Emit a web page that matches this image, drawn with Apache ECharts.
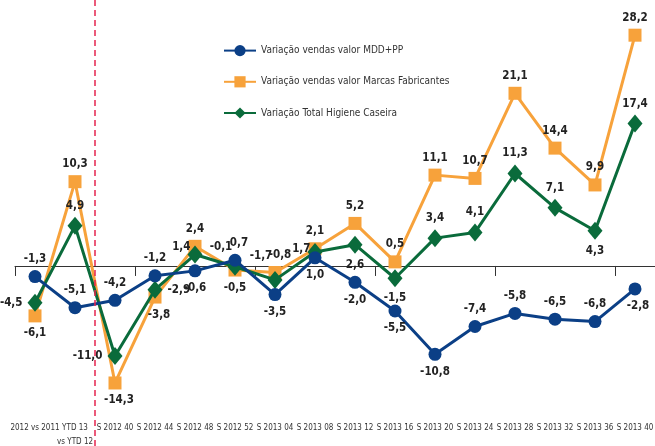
<!DOCTYPE html>
<html>
<head>
<meta charset="utf-8">
<script src="https://cdn.jsdelivr.net/npm/echarts@6/dist/echarts.min.js"></script>
<style>
  html, body { margin: 0; padding: 0; background: #fff; }
  #chart { width: 655px; height: 446px; }
</style>
</head>
<body>
<div id="chart"></div>
<script>
var categories = ['2012 vs 2011', 'YTD 13\nvs YTD 12', 'S 2012 40', 'S 2012 44', 'S 2012 48', 'S 2012 52',
    'S 2013 04', 'S 2013 08', 'S 2013 12', 'S 2013 16', 'S 2013 20', 'S 2013 24',
    'S 2013 28', 'S 2013 32', 'S 2013 36', 'S 2013 40'];

var mddValues = [-1.3, -5.1, -4.2, -1.2, -0.6, 0.7, -3.5, 1.0, -2.0, -5.5, -10.8, -7.4, -5.8, -6.5, -6.8, -2.8];
var marcasValues = [-6.1, 10.3, -14.3, -3.8, 2.4, -0.5, -0.8, 2.1, 5.2, 0.5, 11.1, 10.7, 21.1, 14.4, 9.9, 28.2];
var totalValues = [-4.5, 4.9, -11.0, -2.9, 1.4, -0.1, -1.7, 1.7, 2.6, -1.5, 3.4, 4.1, 11.3, 7.1, 4.3, 17.4];

var seriesNames = ['Variação vendas valor MDD+PP', 'Variação vendas valor Marcas Fabricantes', 'Variação Total Higiene Caseira'];

// where each value label sits, plus a nudge for the crowded ones
var mddLabelPos = ['top', 'top', 'top', 'top', 'bottom', 'top', 'bottom', 'bottom', 'bottom', 'bottom',
    'bottom', 'top', 'top', 'top', 'top', 'bottom'];
var mddLabelNudge = { 5: [4, 0], 15: [3, 0] };
var marcasLabelPos = ['bottom', 'top', 'bottom', 'bottom', 'top', 'bottom', 'top', 'top', 'top', 'top',
    'top', 'top', 'top', 'top', 'top', 'top'];
var marcasLabelNudge = { 2: [4, 0], 3: [4, 0], 6: [5, 0] };
var totalLabelPos = ['left', 'top', 'left', 'right', 'left', 'top', 'top', 'left', 'bottom', 'bottom',
    'top', 'top', 'top', 'top', 'bottom', 'top'];
var totalLabelNudge = { 4: [8, -7], 5: [-14, 0], 6: [-14, -4], 7: [8, -3] };

var labelFont = '"Liberation Sans Narrow", "Arial Narrow", "DejaVu Sans Condensed", sans-serif';

function fmt(v) {
    return String(v.toFixed(1)).replace('.', ',');
}

function withLabels(values, positions, nudge) {
    return values.map(function (v, i) {
        return { value: v, label: { position: positions[i], offset: nudge[i] || [0, 0] } };
    });
}

function lineSeries(name, values, positions, nudge, color, symbol, size, z) {
    return {
        name: name,
        type: 'line',
        data: withLabels(values, positions, nudge),
        symbol: symbol,
        symbolSize: size,
        z: z,
        lineStyle: { color: color, width: 3 },
        itemStyle: { color: color },
        label: {
            show: true,
            distance: 5,
            color: '#222',
            fontFamily: labelFont,
            fontWeight: 'bold',
            fontSize: 11.5,
            formatter: function (p) { return fmt(p.value); }
        },
        animation: false
    };
}

var chart = echarts.init(document.getElementById('chart'));
chart.setOption({
    backgroundColor: '#fff',
    grid: { left: 15, right: 0, top: 0, bottom: 0, outerBoundsMode: 'none', containLabel: false },
    legend: {
        data: seriesNames,
        orient: 'vertical',
        left: 218,
        top: 40,
        itemWidth: 32,
        itemHeight: 14,
        itemGap: 20,
        textStyle: { color: '#333', fontSize: 10, fontFamily: labelFont }
    },
    xAxis: [{
        type: 'category',
        data: categories,
        boundaryGap: true,
        axisLine: { onZero: true, lineStyle: { color: '#333', width: 1 } },
        axisTick: { show: true, inside: false, length: 10, lineStyle: { color: '#333' } },
        axisLabel: { show: false }
    }, {
        type: 'value',
        min: 0,
        max: 16,
        show: false
    }, {
        type: 'category',
        data: categories,
        position: 'bottom',
        offset: -27,
        axisLine: { show: false, onZero: false },
        axisTick: { show: false },
        axisLabel: {
            margin: 2,
            color: '#333',
            fontSize: 8,
            lineHeight: 14,
            fontFamily: labelFont,
            interval: 0
        }
    }],
    yAxis: {
        type: 'value',
        min: -22,
        max: 32.5,
        show: false,
        splitLine: { show: false }
    },
    series: [
        lineSeries(seriesNames[0], mddValues, mddLabelPos, mddLabelNudge, '#0b3f86', 'circle', 13, 4),
        lineSeries(seriesNames[1], marcasValues, marcasLabelPos, marcasLabelNudge, '#f7a23b', 'rect', 13, 2),
        lineSeries(seriesNames[2], totalValues, totalLabelPos, totalLabelNudge, '#0a6b3b', 'diamond', [15, 18], 3),
        {
            name: 'divisor',
            type: 'line',
            xAxisIndex: 1,
            data: [],
            silent: true,
            itemStyle: { color: '#e5244f' },
            markLine: {
                symbol: 'none',
                silent: true,
                label: { show: false },
                lineStyle: { color: '#e5244f', width: 1.5, type: [6, 4], opacity: 1 },
                data: [{ xAxis: 2 }]
            },
            animation: false
        }
    ]
});
</script>
</body>
</html>
